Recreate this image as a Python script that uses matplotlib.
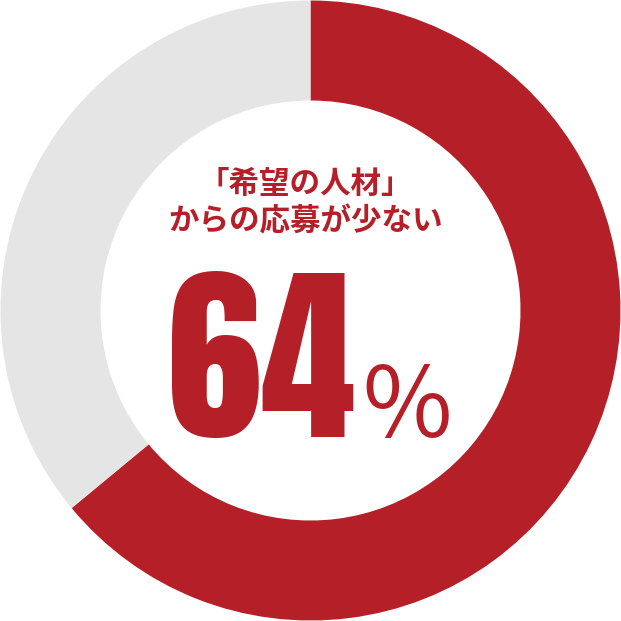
import matplotlib
matplotlib.use("Agg")
from matplotlib import pyplot as plt

# datos
valores = [64, 36]
colores = ["#B52028", "#E5E5E5"]
titulo = ["「希望の人材」", "からの応募が少ない"]
etiqueta = "64"

fig = plt.figure(figsize=(6.21, 6.21), dpi=100)
ax = fig.add_axes([0, 0, 1, 1])
ax.set_aspect("equal")
ax.axis("off")

ax.pie(valores, colors=colores, startangle=90, counterclock=False, radius=310,
       wedgeprops=dict(width=100, linewidth=0), center=(0, 0), frame=False)
ax.set_xlim(-310.5, 310.5)
ax.set_ylim(-310.5, 310.5)

cjk = ["Noto Sans CJK JP", "DejaVu Sans"]
ax.text(-5, 127, titulo[0], ha="center", va="center", fontsize=22,
        fontweight="bold", color=colores[0], family=cjk)
ax.text(-5, 89, titulo[1], ha="center", va="center", fontsize=22,
        fontweight="bold", color=colores[0], family=cjk)

ax.text(-49, -127, etiqueta, ha="center", va="baseline", fontsize=137,
        color=colores[0], family=["Anton", "DejaVu Sans"])
ax.text(97, -128, "％", ha="center", va="baseline", fontsize=70,
        color=colores[0], family=cjk)

plt.savefig("out.png")
plt.close()
